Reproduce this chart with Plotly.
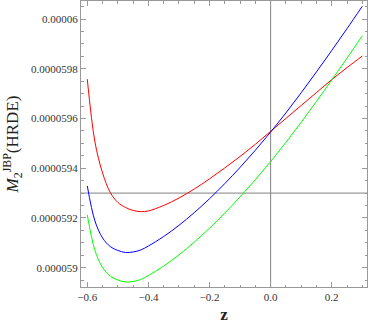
import plotly.graph_objects as go

# ---- data ----
z = [-0.6, -0.575, -0.55, -0.525, -0.5, -0.475, -0.45, -0.425, -0.4, -0.35, -0.3,
     -0.25, -0.2, -0.15, -0.1, -0.05, 0.0, 0.05, 0.1, 0.15, 0.2, 0.25, 0.3]

red = [5.97581e-5, 5.95058e-5, 5.93811e-5, 5.93026e-5, 5.92624e-5, 5.92422e-5,
       5.92302e-5, 5.92253e-5, 5.92282e-5, 5.92502e-5, 5.92802e-5, 5.93162e-5,
       5.93572e-5, 5.94012e-5, 5.94472e-5, 5.94962e-5, 5.95482e-5, 5.96002e-5,
       5.96522e-5, 5.97042e-5, 5.97562e-5, 5.98047e-5, 5.98512e-5]

blue = [5.93288e-5, 5.91879e-5, 5.91195e-5, 5.90853e-5, 5.90692e-5, 5.90612e-5,
        5.90632e-5, 5.90712e-5, 5.90873e-5, 5.91253e-5, 5.91703e-5, 5.92213e-5,
        5.92773e-5, 5.93383e-5, 5.94033e-5, 5.94723e-5, 5.95453e-5, 5.96223e-5,
        5.97033e-5, 5.97873e-5, 5.98733e-5, 5.99613e-5, 6.00513e-5]

green = [5.92121e-5, 5.90692e-5, 5.90008e-5, 5.89666e-5, 5.89505e-5, 5.89425e-5,
         5.89445e-5, 5.89525e-5, 5.89686e-5, 5.90066e-5, 5.90516e-5, 5.91026e-5,
         5.91586e-5, 5.92196e-5, 5.92846e-5, 5.93536e-5, 5.94266e-5, 5.95036e-5,
         5.95846e-5, 5.96686e-5, 5.97546e-5, 5.98426e-5, 5.99326e-5]

x_tickvals = [-0.6, -0.4, -0.2, 0.0, 0.2]
x_ticktext = ["\u22120.6", "\u22120.4", "\u22120.2", "0.0", "0.2"]
y_tickvals = [5.90e-5, 5.92e-5, 5.94e-5, 5.96e-5, 5.98e-5, 6.00e-5]
y_ticktext = ["0.000059", "0.0000592", "0.0000594", "0.0000596", "0.0000598", "0.00006"]

axis_origin_x = 0.0
axis_origin_y = 5.93e-5

# ---- figure ----
fig = go.Figure()
for vals, col in [(red, "#ff0000"), (blue, "#0000ff"), (green, "#00ff00")]:
    fig.add_trace(go.Scatter(x=z, y=vals, mode="lines",
                             line=dict(color=col, width=1, shape="spline", smoothing=1.0),
                             showlegend=False, hoverinfo="skip"))

fig.add_vline(x=axis_origin_x, line=dict(color="#808080", width=1), layer="below")
fig.add_hline(y=axis_origin_y, line=dict(color="#808080", width=1), layer="below")

font_serif = "Liberation Serif"
frame_col = "#999999"
tickfont = dict(family=font_serif, size=11, color="#333333")

fig.update_layout(
    width=368, height=324,
    margin=dict(l=81, r=1, t=1, b=37, autoexpand=False),
    paper_bgcolor="white", plot_bgcolor="white",
    font=dict(family=font_serif, size=11, color="#333333"),
    xaxis=dict(
        range=[-0.6206, 0.3154], showgrid=False, zeroline=False, automargin=False,
        showline=True, linecolor=frame_col, linewidth=1, mirror="allticks",
        ticks="inside", ticklen=5, tickcolor=frame_col, tickwidth=1,
        tickvals=x_tickvals, ticktext=x_ticktext, tickfont=tickfont,
        minor=dict(dtick=0.05, tick0=0, ticks="inside", ticklen=2.5, tickcolor=frame_col, showgrid=False),
        title=dict(text="<b>z</b>", font=dict(family=font_serif, size=17, color="#222222")),
    ),
    yaxis=dict(
        range=[5.89223e-5, 6.00724e-5], showgrid=False, zeroline=False, automargin=False,
        showline=True, linecolor=frame_col, linewidth=1, mirror="allticks",
        ticks="inside", ticklen=5, tickcolor=frame_col, tickwidth=1,
        tickvals=y_tickvals, ticktext=y_ticktext, tickfont=tickfont,
        minor=dict(dtick=0.5e-7, tick0=0, ticks="inside", ticklen=2.5, tickcolor=frame_col, showgrid=False),
        title=dict(text="<i>M</i><sub>2</sub><sup>JBP</sup>(HRDE)",
                   font=dict(family=font_serif, size=17, color="#222222")),
    ),
)

fig.write_html("out.html", config={"displayModeBar": False},
               post_script="document.body.style.margin='0';")
